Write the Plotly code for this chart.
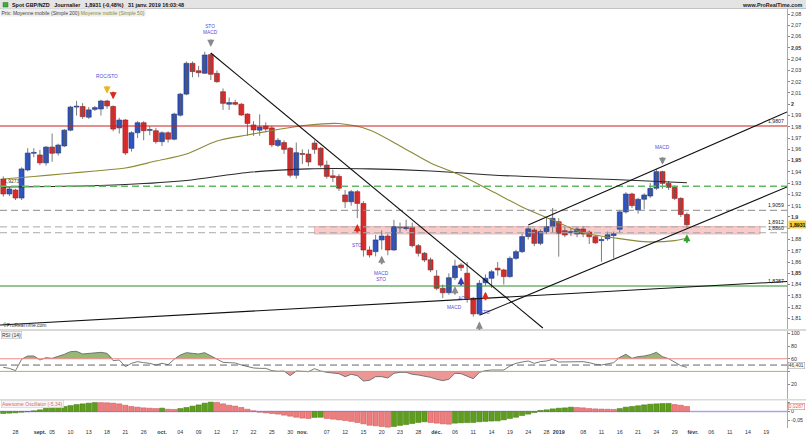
import plotly.graph_objects as go
import pandas as pd

W, H = 806, 437
X_RIGHT = 787          # right edge of the plotting area (px)


def px(x):
    return x / W


def py(y):
    return 1 - y / H


# ---------------------------------------------------------------- DATA
sessions = [d.strftime("%Y-%m-%d") for d in pd.bdate_range("2018-08-24", "2019-02-22")]
holidays = ["2018-12-25", "2019-01-01"]
dates = [d for d in sessions if d not in holidays]
pos = {d: i for i, d in enumerate(dates)}

opens = [1.9337, 1.9204, 1.9239, 1.9168, 1.9417, 1.9565, 1.9550, 1.9480, 1.9620, 1.9567,
         1.9630, 1.9770, 1.9975, 1.9980, 1.9885, 1.9955, 1.9958, 2.0029, 1.9980, 1.9790,
         1.9860, 1.9609, 1.9747, 1.9836, 1.9768, 1.9765, 1.9668, 1.9747, 1.9690, 1.9903,
         2.0090, 2.0363, 2.0297, 2.0275, 2.0440, 2.0274, 2.0111, 2.0000, 2.0015, 2.0000,
         1.9913, 1.9816, 1.9770, 1.9807, 1.9790, 1.9635, 1.9660, 1.9610, 1.9370, 1.9562,
         1.9558, 1.9655, 1.9610, 1.9460, 1.9365, 1.9360, 1.9195, 1.9135, 1.9224, 1.9120,
         1.8707, 1.8692, 1.8796, 1.8831, 1.8707, 1.8903, 1.8897, 1.8905, 1.8745, 1.8678,
         1.8620, 1.8475, 1.8367, 1.8328, 1.8461, 1.8574, 1.8501, 1.8279, 1.8140, 1.8416,
         1.8456, 1.8545, 1.8530, 1.8471, 1.8633, 1.8692, 1.8826, 1.8884, 1.8766, 1.8870,
         1.8914, 1.8958, 1.8878, 1.8862, 1.8849, 1.8893, 1.8866, 1.8825, 1.8790, 1.8807,
         1.8835, 1.8891, 1.9045, 1.9204, 1.9062, 1.9157, 1.9186, 1.9255, 1.9402, 1.9298,
         1.9263, 1.9165, 1.9022]
highs = [1.9360, 1.9265, 1.9250, 1.9440, 1.9610, 1.9610, 1.9595, 1.9630, 1.9740, 1.9650,
         1.9780, 1.9985, 2.0030, 2.0010, 1.9975, 1.9985, 2.0040, 2.0040, 1.9990, 1.9880,
         1.9870, 1.9760, 1.9850, 1.9850, 1.9805, 1.9790, 1.9760, 1.9760, 1.9925, 2.0100,
         2.0380, 2.0380, 2.0340, 2.0466, 2.0455, 2.0300, 2.0140, 2.0060, 2.0040, 2.0010,
         1.9920, 1.9850, 1.9910, 1.9840, 1.9810, 1.9700, 1.9680, 1.9620, 1.9660, 1.9600,
         1.9600, 1.9680, 1.9620, 1.9500, 1.9420, 1.9380, 1.9240, 1.9240, 1.9240, 1.9140,
         1.8740, 1.8840, 1.8880, 1.8850, 1.8974, 1.8950, 1.8975, 1.8950, 1.8760, 1.8690,
         1.8640, 1.8530, 1.8400, 1.8500, 1.8620, 1.8590, 1.8600, 1.8290, 1.8440, 1.8490,
         1.8530, 1.8600, 1.8540, 1.8650, 1.8710, 1.8850, 1.8920, 1.8900, 1.8890, 1.8990,
         1.9080, 1.8990, 1.8910, 1.8900, 1.8910, 1.8920, 1.8880, 1.8840, 1.8820, 1.8870,
         1.8870, 1.9060, 1.9220, 1.9215, 1.9170, 1.9210, 1.9300, 1.9423, 1.9410, 1.9320,
         1.9280, 1.9175, 1.9040]
lows = [1.9180, 1.9185, 1.9150, 1.9150, 1.9405, 1.9530, 1.9460, 1.9455, 1.9490, 1.9545,
        1.9620, 1.9760, 1.9900, 1.9870, 1.9870, 1.9940, 1.9900, 1.9960, 1.9760, 1.9740,
        1.9550, 1.9580, 1.9700, 1.9680, 1.9725, 1.9650, 1.9630, 1.9660, 1.9680, 1.9890,
        2.0080, 2.0240, 2.0240, 2.0270, 2.0215, 2.0190, 1.9950, 1.9950, 1.9990, 1.9895,
        1.9720, 1.9720, 1.9720, 1.9750, 1.9620, 1.9620, 1.9560, 1.9350, 1.9340, 1.9470,
        1.9450, 1.9560, 1.9440, 1.9340, 1.9310, 1.9230, 1.9080, 1.9100, 1.8990, 1.8648,
        1.8640, 1.8650, 1.8710, 1.8660, 1.8700, 1.8860, 1.8880, 1.8730, 1.8650, 1.8600,
        1.8510, 1.8350, 1.8280, 1.8310, 1.8440, 1.8520, 1.8240, 1.8116, 1.8125, 1.8390,
        1.8370, 1.8480, 1.8400, 1.8460, 1.8620, 1.8680, 1.8800, 1.8740, 1.8750, 1.8850,
        1.8860, 1.8648, 1.8820, 1.8830, 1.8820, 1.8820, 1.8760, 1.8760, 1.8603, 1.8790,
        1.8633, 1.8860, 1.9030, 1.9080, 1.9030, 1.9070, 1.9170, 1.9240, 1.9250, 1.9240,
        1.9150, 1.9000, 1.8900]
closes = [1.9204, 1.9248, 1.9168, 1.9426, 1.9567, 1.9570, 1.9480, 1.9620, 1.9565, 1.9638,
          1.9770, 1.9975, 1.9980, 1.9890, 1.9950, 1.9970, 2.0029, 1.9985, 1.9780, 1.9860,
          1.9568, 1.9747, 1.9836, 1.9765, 1.9772, 1.9668, 1.9747, 1.9690, 1.9913, 2.0090,
          2.0363, 2.0290, 2.0280, 2.0437, 2.0266, 2.0200, 2.0008, 2.0015, 2.0000, 1.9905,
          1.9830, 1.9772, 1.9798, 1.9780, 1.9640, 1.9680, 1.9600, 1.9370, 1.9570, 1.9555,
          1.9488, 1.9600, 1.9460, 1.9360, 1.9350, 1.9255, 1.9135, 1.9224, 1.9120, 1.8707,
          1.8663, 1.8796, 1.8831, 1.8707, 1.8914, 1.8907, 1.8910, 1.8745, 1.8678, 1.8618,
          1.8530, 1.8367, 1.8328, 1.8461, 1.8565, 1.8550, 1.8279, 1.8140, 1.8412, 1.8456,
          1.8514, 1.8530, 1.8471, 1.8633, 1.8692, 1.8826, 1.8895, 1.8766, 1.8870, 1.8914,
          1.8988, 1.8856, 1.8840, 1.8868, 1.8893, 1.8849, 1.8825, 1.8771, 1.8800, 1.8842,
          1.8850, 1.9045, 1.9204, 1.9101, 1.9157, 1.9195, 1.9254, 1.9402, 1.9298, 1.9263,
          1.9165, 1.9022, 1.8931]

rsi14 = [46.4, 44.8, 41.2, 59.1, 64.3, 64.3, 58.0, 61.7, 60.6, 63.3,
         67.0, 71.2, 71.7, 67.5, 68.5, 69.1, 70.1, 68.5, 57.0, 58.0,
         47.5, 52.7, 55.4, 53.8, 52.7, 50.1, 52.7, 50.6, 59.1, 65.9,
         69.6, 68.5, 67.5, 69.6, 64.3, 59.6, 54.3, 53.8, 53.3, 50.1,
         47.5, 45.4, 44.8, 44.8, 41.2, 40.1, 40.6, 33.3, 40.6, 40.6,
         39.6, 44.3, 40.6, 38.5, 38.0, 36.4, 31.7, 35.4, 33.3, 24.8,
         25.9, 31.7, 31.7, 29.6, 37.0, 38.5, 38.5, 35.4, 34.3, 32.7,
         30.6, 27.5, 25.4, 27.5, 37.0, 36.4, 32.7, 28.5, 38.5, 41.2,
         42.2, 42.2, 42.2, 48.5, 52.7, 54.8, 56.4, 52.7, 55.4, 56.4,
         59.1, 54.8, 54.8, 54.8, 55.9, 55.4, 53.8, 51.2, 50.1, 51.7,
         53.8, 62.2, 67.0, 60.6, 63.3, 64.3, 66.4, 70.1, 63.3, 60.1,
         54.8, 49.1, 46.4]

ao = [-0.0115, -0.0096, -0.0077, -0.004, -0.001, 0.004, 0.0096, 0.019, 0.023, 0.025,
      0.029, 0.034, 0.040, 0.044, 0.048, 0.0515, 0.0510, 0.0500, 0.048, 0.044,
      0.036, 0.029, 0.025, 0.021, 0.019, 0.017, 0.0195, 0.013, 0.012, 0.017,
      0.023, 0.031, 0.038, 0.048, 0.054, 0.052, 0.044, 0.036, 0.031, 0.023,
      0.013, 0.004, -0.004, -0.008, -0.0115, -0.015, -0.021, -0.027, -0.033, -0.038,
      -0.040, -0.034, -0.033, -0.040, -0.044, -0.048, -0.052, -0.057, -0.063, -0.071,
      -0.079, -0.082, -0.086, -0.090, -0.086, -0.080, -0.075, -0.069, -0.063, -0.059,
      -0.063, -0.067, -0.071, -0.073, -0.067, -0.065, -0.064, -0.063, -0.059, -0.057,
      -0.055, -0.054, -0.048, -0.040, -0.033, -0.023, -0.015, -0.006, 0.006, 0.0096,
      0.015, 0.019, 0.021, 0.025, 0.023, 0.021, 0.017, 0.015, 0.014, 0.013,
      0.012, 0.017, 0.025, 0.029, 0.033, 0.038, 0.042, 0.044, 0.046, 0.0465,
      0.040, 0.036, 0.029]

# moving averages at a few sessions
ma50_dates = ["2018-08-24", "2018-08-31", "2018-09-07", "2018-09-14", "2018-09-21", "2018-09-28",
              "2018-10-05", "2018-10-12", "2018-10-19", "2018-10-26", "2018-11-02", "2018-11-09",
              "2018-11-16", "2018-11-23", "2018-11-30", "2018-12-07", "2018-12-14", "2018-12-21",
              "2018-12-31", "2019-01-08", "2019-01-15", "2019-01-22", "2019-01-29", "2019-01-31"]
ma50 = [1.9337, 1.9359, 1.9383, 1.9408, 1.9434, 1.9496, 1.9559, 1.9674, 1.9727, 1.9776,
        1.9816, 1.9829, 1.9772, 1.9630, 1.9479, 1.9368, 1.9230, 1.9089, 1.8973, 1.8860,
        1.8815, 1.8781, 1.8790, 1.8811]
ma200_dates = ["2018-08-24", "2018-09-07", "2018-09-21", "2018-10-05", "2018-10-19", "2018-11-02",
               "2018-11-16", "2018-11-30", "2018-12-14", "2018-12-31", "2019-01-15", "2019-01-31"]
ma200 = [1.9266, 1.9272, 1.9288, 1.9324, 1.9395, 1.9427, 1.9427, 1.9408, 1.9372, 1.9350,
         1.9332, 1.9304]

# horizontal levels
level_values = [1.9807, 1.9273, 1.9059, 1.8912, 1.8860, 1.8387]
level_labels = ["1,9807", "", "1,9059", "1,8912", "1,8860", "1,8387"]
zone_low, zone_high = 1.8848, 1.8915
zone_dates = ["2018-11-05", "2019-02-18"]

# trend lines: (session position, price) pairs
trend_lines = [((34.0, 2.0455), (88.4, 1.8015)),
               ((-0.54, 1.8041), (128.4, 1.8427)),
               ((78.1, 1.8130), (128.4, 1.9266)),
               ((86.0, 1.8929), (128.4, 1.9931))]

# signals
sig_dates = ["2018-09-18", "2018-09-19", "2018-10-11", "2018-11-14", "2018-11-20", "2018-12-06",
             "2018-12-07", "2018-12-12", "2018-12-13", "2019-01-25", "2019-01-31"]
sig_dir = ["down", "down", "down", "up", "up", "up", "up", "up", "up", "down", "up"]
sig_kind = ["yellow", "red", "grey", "red", "grey", "grey", "blue", "grey", "red", "grey", "green"]
sig_text = ["ROC/STO", "", "STO<br>MACD", "STO", "MACD<br>STO", "MACD", "AO", "", "STO", "MACD", ""]

tick_dates = ["2018-08-28", "2018-09-03", "2018-09-05", "2018-09-10", "2018-09-13", "2018-09-18",
              "2018-09-21", "2018-09-26", "2018-10-01", "2018-10-04", "2018-10-09", "2018-10-12",
              "2018-10-17", "2018-10-22", "2018-10-25", "2018-10-30", "2018-11-01", "2018-11-07",
              "2018-11-12", "2018-11-15", "2018-11-20", "2018-11-23", "2018-11-28", "2018-12-03",
              "2018-12-06", "2018-12-11", "2018-12-14", "2018-12-19", "2018-12-24", "2018-12-28",
              "2019-01-02", "2019-01-08", "2019-01-11", "2019-01-16", "2019-01-21", "2019-01-24",
              "2019-01-29", "2019-02-01", "2019-02-06", "2019-02-11", "2019-02-14", "2019-02-19"]
tick_labels = ["28", "<b>sept.</b>", "05", "10", "13", "18", "21", "26", "<b>oct.</b>", "04", "09",
               "12", "17", "22", "25", "30", "<b>nov.</b>", "07", "12", "15", "20", "23", "28",
               "<b>déc.</b>", "06", "11", "14", "19", "24", "28", "<b>2019</b>", "08", "11", "16",
               "21", "24", "29", "<b>févr.</b>", "06", "11", "14", "19"]

price_ticks = [1.81, 1.82, 1.83, 1.84, 1.85, 1.86, 1.87, 1.88, 1.89, 1.90, 1.91, 1.92, 1.93, 1.94,
               1.95, 1.96, 1.97, 1.98, 1.99, 2.00, 2.01, 2.02, 2.03, 2.04, 2.05, 2.06, 2.07, 2.08]
rsi_ticks = [20, 40, 60, 80, 100]
ao_ticks = [-0.05, 0, 0.05]
ao_tick_labels = ["-0,05", "0", "0,05"]

# ---------------------------------------------------------------- FIGURE
FONT = "Liberation Sans"
n = len(closes)
xi = list(range(n))
X0, X1 = -0.54, 128.4
XD = [0, px(X_RIGHT)]

fig = go.Figure()

# wicks
wx, wy = [], []
for i in range(n):
    wx += [i, i, None]
    wy += [lows[i], highs[i], None]
fig.add_trace(go.Scatter(x=wx, y=wy, mode="lines", line=dict(color="#5a5a5a", width=0.8),
                         hoverinfo="skip", xaxis="x", yaxis="y"))

# bodies
up = [c >= o for o, c in zip(opens, closes)]
fig.add_trace(go.Bar(
    x=xi, base=[min(o, c) for o, c in zip(opens, closes)],
    y=[max(abs(c - o), 0.0008) for o, c in zip(opens, closes)], width=0.8,
    marker=dict(color=["#2c52c2" if u else "#e12a2a" for u in up],
                line=dict(color=["#1a3480" if u else "#981414" for u in up], width=0.6)),
    xaxis="x", yaxis="y", hoverinfo="skip"))

# moving averages
fig.add_trace(go.Scatter(x=[pos[d] for d in ma200_dates], y=ma200, mode="lines",
                         line=dict(color="#2a2a2a", width=1.1, shape="spline", smoothing=0.8),
                         xaxis="x", yaxis="y", hoverinfo="skip"))
fig.add_trace(go.Scatter(x=[pos[d] for d in ma50_dates], y=ma50, mode="lines",
                         line=dict(color="#8c8a35", width=1.1, shape="spline", smoothing=0.8),
                         xaxis="x", yaxis="y", hoverinfo="skip"))

# RSI fills and line
fig.add_trace(go.Scatter(x=xi, y=[60] * n, mode="lines", line=dict(width=0), xaxis="x2", yaxis="y2",
                         hoverinfo="skip"))
fig.add_trace(go.Scatter(x=xi, y=[max(v, 60) for v in rsi14], mode="lines", line=dict(width=0),
                         fill="tonexty", fillcolor="rgba(115,160,70,0.75)", xaxis="x2", yaxis="y2",
                         hoverinfo="skip"))
fig.add_trace(go.Scatter(x=xi, y=[40] * n, mode="lines", line=dict(width=0), xaxis="x2", yaxis="y2",
                         hoverinfo="skip"))
fig.add_trace(go.Scatter(x=xi, y=[min(v, 40) for v in rsi14], mode="lines", line=dict(width=0),
                         fill="tonexty", fillcolor="rgba(228,110,110,0.72)", xaxis="x2", yaxis="y2",
                         hoverinfo="skip"))
fig.add_trace(go.Scatter(x=xi, y=rsi14, mode="lines", line=dict(color="#6a6a6a", width=0.9),
                         xaxis="x2", yaxis="y2", hoverinfo="skip"))

# Awesome oscillator
ao_up = [True] + [ao[i] > ao[i - 1] for i in range(1, n)]
fig.add_trace(go.Bar(
    x=xi, y=ao, width=0.86,
    marker=dict(color=["#5f9e1c" if u else "#ee7d7d" for u in ao_up],
                line=dict(color=["#3f7410" if u else "#c94e4e" for u in ao_up], width=0.5)),
    xaxis="x3", yaxis="y3", hoverinfo="skip"))

shapes = []
# header bar and panel separators
shapes.append(dict(type="rect", xref="paper", yref="paper", x0=0, x1=1, y0=py(8.5), y1=1,
                   fillcolor="#e4e4e4", line=dict(width=0), layer="below"))
shapes.append(dict(type="line", xref="paper", yref="paper", x0=0, x1=1, y0=py(8.5), y1=py(8.5),
                   line=dict(color="#b8b8b8", width=0.8)))
shapes.append(dict(type="rect", xref="paper", yref="paper", x0=px(3), x1=px(8), y0=py(7), y1=py(2.5),
                   fillcolor="#3aae3a", line=dict(color="#2a7a2a", width=0.5)))
shapes.append(dict(type="rect", xref="paper", yref="paper", x0=0, x1=1, y0=py(331), y1=py(329),
                   fillcolor="#d9d9d9", line=dict(width=0)))
shapes.append(dict(type="rect", xref="paper", yref="paper", x0=0, x1=1, y0=py(400.5), y1=py(399),
                   fillcolor="#d9d9d9", line=dict(width=0)))

# support / resistance zone
shapes.append(dict(type="rect", xref="x", yref="y", x0=pos[zone_dates[0]], x1=pos[zone_dates[1]],
                   y0=zone_low, y1=zone_high, fillcolor="rgba(242,160,160,0.55)",
                   line=dict(color="rgba(215,120,120,0.7)", width=0.6), layer="below"))

level_styles = [dict(color="#c91f1f", width=1.1),
                dict(color="#63b963", width=1.6, dash="7px,4px"),
                dict(color="#8a8a8a", width=1.0, dash="7px,4px"),
                dict(color="#a8a8a8", width=1.0, dash="7px,4px"),
                dict(color="#a8a8a8", width=1.0, dash="7px,4px"),
                dict(color="#2d8a2d", width=1.1)]
for v, st in zip(level_values, level_styles):
    shapes.append(dict(type="line", xref="x domain", yref="y", x0=0, x1=1, y0=v, y1=v, line=st))

for (a, b) in trend_lines:
    shapes.append(dict(type="line", xref="x", yref="y", x0=a[0], y0=a[1], x1=b[0], y1=b[1],
                       line=dict(color="#111111", width=1.1)))

# RSI levels
shapes.append(dict(type="line", xref="x2 domain", yref="y2", x0=0, x1=1, y0=60, y1=60,
                   line=dict(color="#f08a8a", width=1.1)))
shapes.append(dict(type="line", xref="x2 domain", yref="y2", x0=0, x1=1, y0=50, y1=50,
                   line=dict(color="#555555", width=0.9, dash="7px,4px")))
shapes.append(dict(type="line", xref="x2 domain", yref="y2", x0=0, x1=1, y0=40, y1=40,
                   line=dict(color="#a5a560", width=0.9)))
# AO zero line
shapes.append(dict(type="line", xref="x3 domain", yref="y3", x0=0, x1=1, y0=0, y1=0,
                   line=dict(color="#a6a6e8", width=1.4), layer="below"))

ann = []
small = dict(family=FONT, size=5.2, color="#222222")
ann.append(dict(xref="paper", yref="paper", x=px(10), y=py(4.6), xanchor="left", yanchor="middle",
                showarrow=False, font=dict(family=FONT, size=5.4, color="#111111"),
                text="<b>Spot GBP/NZD   Journalier   1,8931 (-0,48%)   31 janv. 2019 16:03:48</b>"))
ann.append(dict(xref="paper", yref="paper", x=px(805), y=py(4.6), xanchor="right", yanchor="middle",
                showarrow=False, font=dict(family=FONT, size=5.4, color="#222222"),
                text="<b>www.ProRealTime.com</b>"))
ann.append(dict(xref="paper", yref="paper", x=0, y=py(12.3), xanchor="left", yanchor="middle",
                showarrow=False, font=dict(family=FONT, size=5, color="#444444"),
                bgcolor="#eeeeee", borderpad=0.5,
                text="Prix: Moyenne mobile (Simple 200) <span style='color:#8c8a35'>Moyenne mobile (Simple 50)</span>"))
ann.append(dict(xref="paper", yref="paper", x=px(1), y=py(325), xanchor="left", yanchor="middle",
                showarrow=False, font=dict(family=FONT, size=5, color="#333333"), text="©ProRealTime.com"))
ann.append(dict(xref="paper", yref="paper", x=px(1), y=py(334.5), xanchor="left", yanchor="middle",
                showarrow=False, font=dict(family=FONT, size=5, color="#333333"), text="RSI (14)",
                bgcolor="#f2f2f2", bordercolor="#b5b5b5", borderwidth=0.5, borderpad=0.5))
ann.append(dict(xref="paper", yref="paper", x=px(1), y=py(404), xanchor="left", yanchor="middle",
                showarrow=False, font=dict(family=FONT, size=5, color="#e06a6a"),
                text="Awesome Oscillator (-5,34)",
                bgcolor="#f6f6f6", bordercolor="#c8c8c8", borderwidth=0.5, borderpad=0.5))
# level labels
for v, t in zip(level_values, level_labels):
    if t:
        ann.append(dict(xref="x domain", yref="y", x=0.999, y=v, xanchor="right", yanchor="bottom",
                        showarrow=False, font=small, text=t))
ann.append(dict(xref="paper", yref="y", x=px(2), y=level_values[1], xanchor="left", yanchor="bottom",
                showarrow=False, font=dict(family=FONT, size=5, color="#333333"), text="1,9273"))
# last-value labels on the scales (they cover the tick label underneath)
ann.append(dict(xref="paper", yref="y", x=px(788), y=closes[-1], xanchor="left", yanchor="middle",
                showarrow=False, font=dict(family=FONT, size=5.2, color="#111111"),
                text="<b>1,8931</b>", bgcolor="#f3cf36", borderpad=0.6))
ann.append(dict(xref="paper", yref="y2", x=px(788), y=rsi14[-1], xanchor="left", yanchor="bottom",
                yshift=-2, showarrow=False, font=dict(family=FONT, size=4.8, color="#333333"),
                text="46,401", bgcolor="#ffffff", bordercolor="#9a9a9a", borderwidth=0.5,
                borderpad=0.3))
ann.append(dict(xref="paper", yref="y3", x=px(788), y=ao[-1], xanchor="left", yanchor="middle",
                showarrow=False, font=dict(family=FONT, size=4.8, color="#e06060"), text="0,0287",
                bgcolor="#ffffff", bordercolor="#e06060", borderwidth=0.5, borderpad=0.3))

arrow_colors = {"yellow": "#e8b820", "red": "#d92b1f", "grey": "#8a8a8a", "blue": "#3240b8",
                "green": "#2fa02f"}
for d, dr, k, t in zip(sig_dates, sig_dir, sig_kind, sig_text):
    i = pos[d]
    if dr == "down":
        yv, ay, ty = highs[i], -15, 23
    else:
        yv, ay, ty = lows[i], 16, -27
    ann.append(dict(xref="x", yref="y", x=i, y=yv, ax=0, ay=ay, axref="pixel", ayref="pixel",
                    showarrow=True, arrowhead=2, arrowsize=0.75, arrowwidth=1.9, standoff=6,
                    arrowcolor=arrow_colors[k], text=""))
    if t:
        ann.append(dict(xref="x", yref="y", x=i, y=yv, yshift=ty, showarrow=False,
                        font=dict(family=FONT, size=4.8, color="#4f4fd6"), text=t,
                        xanchor="center", yanchor="middle"))


def fmt(v):
    if abs(v - closes[-1]) < 0.006:          # hidden under the last-price box
        return ""
    s = f"{v:.2f}".rstrip("0").rstrip(".").replace(".", ",")
    return f"<b>{s}</b>" if round(v * 100) % 5 == 0 else s


axis_common = dict(showgrid=False, zeroline=False)
tickfont = dict(family=FONT, size=5.3, color="#333333")
fig.update_layout(
    width=W, height=H, margin=dict(l=0, r=0, t=0, b=0),
    paper_bgcolor="white", plot_bgcolor="white", showlegend=False, barmode="overlay",
    shapes=shapes, annotations=ann,
    xaxis=dict(domain=XD, range=[X0, X1], showticklabels=False, anchor="y", **axis_common),
    yaxis=dict(domain=[py(329), py(9)], range=[1.8006, 2.0845], side="right", anchor="x",
               tickvals=price_ticks, ticktext=[fmt(v) for v in price_ticks], tickfont=tickfont,
               ticks="outside", ticklen=2, tickcolor="#888888", showline=True, linecolor="#aaaaaa",
               linewidth=0.8, **axis_common),
    xaxis2=dict(domain=XD, range=[X0, X1], showticklabels=False, anchor="y2", **axis_common),
    yaxis2=dict(domain=[py(399), py(331)], range=[-3.6, 103.8], side="right", anchor="x2",
                tickvals=rsi_ticks, ticktext=[str(v) if v != 40 else "" for v in rsi_ticks],
                tickfont=tickfont, ticks="outside", ticklen=2,
                tickcolor="#888888", showline=True, linecolor="#aaaaaa", linewidth=0.8, **axis_common),
    xaxis3=dict(domain=XD, range=[X0, X1], anchor="y3", tickvals=[pos[d] for d in tick_dates],
                ticktext=tick_labels, tickfont=tickfont, ticks="", showline=False, **axis_common),
    yaxis3=dict(domain=[py(428), py(400)], range=[-0.0948, 0.0661], side="right", anchor="x3",
                tickvals=ao_ticks, ticktext=[t if v <= 0 else "" for v, t in zip(ao_ticks, ao_tick_labels)],
                tickfont=tickfont, ticks="outside", ticklen=2, tickcolor="#888888", showline=True,
                linecolor="#aaaaaa", linewidth=0.8, **axis_common),
)

fig.write_html("out.html")
